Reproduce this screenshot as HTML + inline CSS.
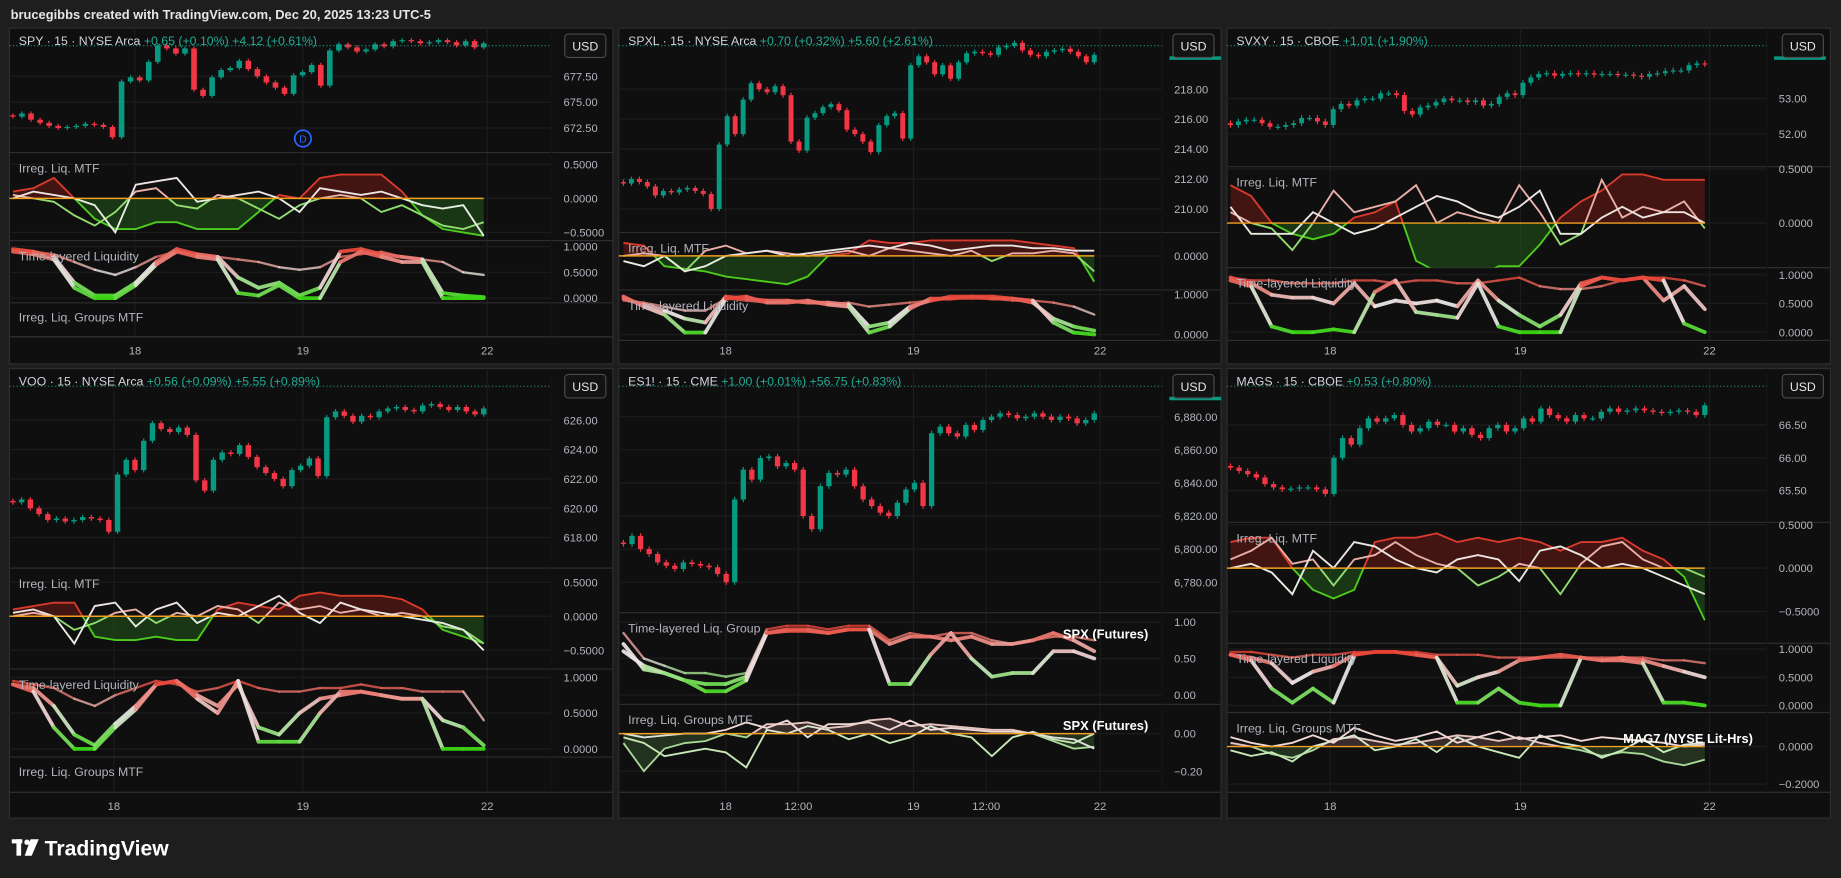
<!DOCTYPE html>
<html><head><meta charset="utf-8"><style>
html,body{margin:0;padding:0;background:#1e1e1e;overflow:hidden;}
svg{display:block;font-family:"Liberation Sans",sans-serif;}
</style></head><body>
<svg id="root" width="1841" height="878" viewBox="0 0 1568 748" preserveAspectRatio="none" xmlns="http://www.w3.org/2000/svg">
<rect x="0" y="0" width="1568" height="748" fill="#1e1e1e"/>
<text x="9" y="16" fill="#e6e6e6" font-size="11" font-weight="bold">brucegibbs created with TradingView.com, Dec 20, 2025 13:23 UTC-5</text>
<g>
<rect x="10" y="715" width="9" height="3.5" fill="#fff"/><rect x="14" y="715" width="4" height="14" fill="#fff"/>
<circle cx="23" cy="717.5" r="2.3" fill="#fff"/><polygon points="26,715 33,715 27,729 21,729" fill="#fff"/>
<text x="38" y="729" fill="#fff" font-size="18" font-weight="bold">TradingView</text>
</g>
<g id="panels"></g>
</svg>
<script>
// ---------- price data (closes) ----------
const spyClose=[673.6,673.9,673.3,673.0,672.7,672.5,672.6,672.7,672.9,672.8,672.6,671.6,677.0,677.4,677.1,678.9,680.5,680.2,679.7,680.2,676.2,675.6,677.4,678.1,678.3,679.0,678.2,677.5,676.9,676.4,675.8,677.6,677.9,678.6,676.6,680.0,680.6,680.3,679.9,680.1,680.6,680.4,680.9,681.0,680.9,680.7,680.8,681.0,680.8,680.5,680.9,680.3,680.7];
const spxlClose=[211.7,212.0,211.8,211.5,210.9,211.2,211.1,211.3,211.4,211.2,211.0,210.0,214.3,216.2,215.0,217.3,218.4,218.0,217.8,218.2,217.6,214.5,213.9,216.1,216.4,216.8,217.0,216.6,215.3,215.0,214.5,213.8,215.6,216.2,216.4,214.7,219.6,220.2,219.8,219.0,219.6,218.7,219.8,220.4,220.5,220.4,220.3,220.8,220.9,221.1,220.6,220.3,220.2,220.5,220.6,220.7,220.5,220.2,219.8,220.3];
const svxyClose=[52.25,52.35,52.4,52.4,52.3,52.2,52.2,52.25,52.3,52.45,52.45,52.35,52.25,52.7,52.85,52.8,52.95,53.0,53.0,53.15,53.15,53.1,52.65,52.55,52.75,52.8,52.9,53.0,52.95,52.95,52.9,52.95,52.8,52.85,53.05,53.15,53.1,53.45,53.6,53.7,53.72,53.65,53.7,53.72,53.7,53.72,53.68,53.7,53.7,53.68,53.68,53.65,53.62,53.7,53.72,53.78,53.8,53.8,53.95,54.0,53.98];
const vooClose=[620.4,620.6,620.0,619.6,619.2,619.3,619.1,619.2,619.4,619.3,619.2,618.4,622.3,623.3,622.6,624.6,625.8,625.4,625.2,625.5,625.0,621.9,621.2,623.3,623.8,623.7,624.3,623.5,622.8,622.4,622.0,621.5,622.6,622.9,623.4,622.2,626.2,626.6,626.3,625.9,626.3,626.2,626.6,626.8,626.9,626.7,626.6,627.0,627.1,626.9,626.7,626.9,626.6,626.4,626.8];
const esClose=[6803,6808,6800,6797,6792,6790,6788,6792,6791,6790,6789,6785,6780,6830,6848,6842,6855,6856,6850,6852,6848,6820,6812,6838,6846,6845,6848,6838,6830,6826,6822,6820,6828,6836,6840,6826,6870,6874,6870,6868,6875,6872,6878,6880,6882,6881,6879,6880,6882,6880,6878,6880,6879,6876,6878,6882];
const magsClose=[65.85,65.8,65.75,65.7,65.6,65.55,65.52,65.53,65.55,65.55,65.52,65.45,66.0,66.3,66.2,66.45,66.6,66.55,66.6,66.65,66.5,66.4,66.45,66.55,66.5,66.5,66.4,66.45,66.35,66.3,66.45,66.5,66.4,66.45,66.6,66.55,66.75,66.65,66.6,66.55,66.65,66.6,66.6,66.7,66.75,66.7,66.72,66.75,66.72,66.7,66.68,66.7,66.72,66.7,66.65,66.8];

// ---------- indicator data ----------
const spyMtfA=[0.1,0.15,0.3,0.0,-0.3,-0.45,-0.45,-0.35,-0.35,-0.45,-0.45,-0.45,-0.2,0.05,0.0,0.3,0.35,0.35,0.35,0.1,-0.25,-0.45,-0.5,-0.55];
const spyMtfB=[0.05,0.0,-0.05,-0.25,-0.4,-0.2,0.1,0.15,-0.1,-0.15,0.05,0.0,-0.15,-0.3,-0.1,0.0,0.05,0.0,-0.2,-0.1,-0.25,-0.4,-0.45,-0.35];
const spyMtfC=[0.0,0.1,0.05,0.0,-0.1,-0.5,0.2,0.25,0.3,-0.05,0.0,0.05,0.1,0.0,-0.2,0.15,0.1,0.05,0.1,0.0,-0.1,-0.15,-0.1,-0.55];
const spyTl1=[0.95,0.9,0.85,0.7,0.55,0.45,0.6,0.8,0.9,0.85,0.8,0.75,0.7,0.6,0.55,0.6,0.8,0.85,0.9,0.8,0.75,0.7,0.5,0.45];
const spyTl2=[0.95,0.9,0.8,0.3,0.05,0.05,0.3,0.7,0.95,0.85,0.8,0.4,0.2,0.3,0.05,0.2,0.9,0.95,0.85,0.8,0.75,0.1,0.05,0.02];
const spyTl3=[0.9,0.85,0.75,0.2,0.0,0.0,0.25,0.65,0.9,0.8,0.75,0.1,0.05,0.25,0.0,0.0,0.7,0.9,0.8,0.7,0.7,0.0,0.0,0.0];

const spxlMtfA=[0.25,0.2,-0.2,-0.25,-0.3,-0.4,-0.45,-0.5,-0.55,-0.4,0.0,0.05,0.3,0.25,0.25,0.3,0.3,0.3,0.3,0.3,0.25,0.2,0.15,-0.5];
const spxlMtfB=[0.0,0.05,0.0,-0.3,0.1,0.2,0.05,0.1,0.05,0.0,0.05,0.1,0.0,0.15,0.1,0.05,0.0,0.1,-0.1,0.05,0.05,0.1,0.05,-0.3];
const spxlMtfC=[-0.1,-0.2,0.0,-0.3,-0.2,0.0,0.05,0.1,0.0,0.05,0.1,0.15,0.2,0.15,0.25,0.2,0.1,0.15,0.2,0.2,0.15,0.15,0.1,0.1];
const spxlTl1=[0.85,0.8,0.7,0.6,0.6,0.9,0.85,0.8,0.85,0.8,0.75,0.8,0.7,0.75,0.8,0.85,0.9,0.9,0.9,0.85,0.85,0.8,0.7,0.5];
const spxlTl2=[0.9,0.75,0.6,0.4,0.3,0.95,0.9,0.85,0.85,0.8,0.8,0.75,0.2,0.3,0.7,0.85,0.95,0.95,0.95,0.9,0.8,0.4,0.2,0.1];
const spxlTl3=[0.95,0.7,0.5,0.05,0.05,0.9,0.95,0.8,0.8,0.85,0.75,0.7,0.05,0.2,0.65,0.9,0.9,0.95,0.9,0.9,0.85,0.3,0.05,0.0];

const svxyMtfA=[0.35,0.25,0.0,-0.1,-0.15,-0.1,0.05,0.1,0.2,-0.35,-0.45,-0.45,-0.5,-0.4,-0.4,-0.2,0.05,0.2,0.3,0.45,0.45,0.4,0.4,0.4];
const svxyMtfB=[0.1,0.0,-0.05,-0.25,0.0,0.3,0.1,0.15,0.2,0.35,0.0,0.1,0.05,0.0,0.35,0.1,-0.2,-0.1,0.4,0.05,0.15,0.1,0.2,-0.05];
const svxyMtfC=[0.15,-0.1,-0.1,-0.1,0.1,0.0,-0.1,-0.05,0.05,0.15,0.25,0.2,0.1,0.05,0.15,0.3,-0.1,-0.1,0.05,0.15,0.05,0.1,0.1,0.0];
const svxyTl1=[0.95,0.9,0.9,0.85,0.85,0.85,0.9,0.9,0.85,0.9,0.9,0.85,0.85,0.9,0.95,0.8,0.75,0.75,0.8,0.9,0.95,0.95,0.9,0.8];
const svxyTl2=[0.95,0.85,0.65,0.6,0.6,0.5,0.85,0.45,0.55,0.5,0.55,0.45,0.9,0.55,0.3,0.1,0.3,0.85,0.95,0.9,0.95,0.55,0.8,0.4];
const svxyTl3=[0.9,0.8,0.1,0.0,0.0,0.05,0.0,0.7,0.9,0.35,0.3,0.25,0.85,0.1,0.0,0.0,0.0,0.8,0.95,0.9,0.95,0.9,0.15,0.0];

const vooMtfA=[0.1,0.15,0.2,0.2,-0.3,-0.35,-0.35,-0.3,-0.35,-0.35,0.1,0.2,0.15,0.1,0.3,0.35,0.3,0.3,0.3,0.25,0.1,-0.2,-0.3,-0.4];
const vooMtfB=[0.0,0.05,0.0,-0.2,-0.1,0.05,0.1,-0.1,0.05,0.0,0.15,0.1,-0.1,0.2,0.1,0.15,0.05,0.1,0.0,0.05,0.0,-0.15,-0.2,-0.4];
const vooMtfC=[0.05,0.1,0.0,-0.4,0.15,0.2,-0.15,0.1,0.2,-0.1,0.05,0.0,0.15,0.3,0.05,-0.1,0.2,0.1,0.05,0.0,-0.05,-0.1,-0.2,-0.5];
const vooTl1=[0.95,0.9,0.85,0.7,0.6,0.75,0.85,0.95,0.9,0.8,0.85,0.95,0.85,0.8,0.8,0.85,0.85,0.9,0.85,0.85,0.8,0.8,0.8,0.4];
const vooTl2=[0.9,0.85,0.6,0.2,0.05,0.35,0.6,0.9,0.95,0.75,0.6,0.9,0.3,0.2,0.5,0.7,0.75,0.8,0.75,0.7,0.7,0.4,0.3,0.05];
const vooTl3=[0.9,0.8,0.3,0.0,0.0,0.3,0.55,0.9,0.95,0.7,0.5,0.95,0.1,0.1,0.1,0.5,0.8,0.8,0.75,0.7,0.7,0.0,0.0,0.0];

const esTl1=[0.85,0.5,0.4,0.3,0.3,0.25,0.3,0.9,0.95,0.95,0.9,0.95,0.95,0.75,0.85,0.8,0.85,0.85,0.75,0.7,0.75,0.8,0.8,0.75];
const esTl2=[0.7,0.35,0.3,0.2,0.15,0.15,0.25,0.85,0.9,0.9,0.85,0.9,0.9,0.7,0.8,0.8,0.75,0.8,0.7,0.7,0.75,0.85,0.75,0.6];
const esTl3=[0.6,0.4,0.3,0.2,0.05,0.05,0.2,0.85,0.88,0.88,0.85,0.9,0.9,0.15,0.15,0.55,0.85,0.5,0.25,0.3,0.3,0.6,0.6,0.5];
const esGrpA=[-0.05,-0.2,-0.08,-0.05,-0.04,0.0,-0.02,0.05,0.05,0.06,0.03,0.04,0.07,0.08,0.04,0.05,0.04,0.03,0.02,0.02,0.0,-0.04,-0.08,-0.07];
const esGrpB=[-0.02,-0.05,-0.12,-0.1,-0.08,-0.1,-0.18,0.02,0.0,0.04,0.02,-0.03,0.0,-0.05,-0.02,0.04,0.0,-0.02,-0.12,-0.02,0.01,-0.03,-0.05,0.0];
const esGrpC=[0.0,-0.02,-0.01,0.0,0.0,0.02,0.06,0.03,0.07,-0.02,0.05,0.05,0.06,0.02,0.07,0.02,0.03,0.02,0.01,0.01,0.0,-0.02,-0.03,-0.08];

const magsMtfA=[0.3,0.35,0.35,0.0,-0.25,-0.35,-0.25,0.3,0.35,0.35,0.4,0.3,0.35,0.3,0.35,0.3,0.2,0.3,0.3,0.35,0.2,0.1,-0.1,-0.6];
const magsMtfB=[0.1,0.2,0.35,0.05,0.1,-0.2,0.1,0.15,0.3,0.15,0.05,0.0,-0.2,-0.1,0.05,0.0,-0.3,0.05,0.25,0.3,0.1,0.0,0.0,-0.1];
const magsMtfC=[0.0,0.05,-0.05,-0.3,0.2,0.0,0.3,0.25,0.1,0.0,-0.05,0.1,0.15,0.1,-0.15,0.2,0.25,0.15,0.0,0.05,0.0,-0.1,-0.2,-0.3];
const magsTl1=[0.95,0.95,0.9,0.85,0.9,0.9,0.95,0.95,0.95,0.95,0.9,0.9,0.9,0.85,0.85,0.85,0.85,0.85,0.85,0.85,0.85,0.8,0.8,0.75];
const magsTl2=[0.9,0.85,0.75,0.4,0.6,0.7,0.9,0.95,0.95,0.9,0.85,0.35,0.5,0.6,0.8,0.85,0.9,0.85,0.8,0.85,0.8,0.7,0.6,0.5];
const magsTl3=[0.9,0.8,0.3,0.05,0.3,0.05,0.9,0.95,0.95,0.9,0.85,0.05,0.05,0.3,0.05,0.0,0.0,0.85,0.8,0.8,0.75,0.05,0.05,0.0];
const magsGrpA=[0.02,0.0,-0.04,-0.06,-0.02,0.04,0.05,0.03,0.01,0.02,0.04,0.06,0.05,0.03,0.05,0.02,0.0,-0.02,-0.05,-0.03,-0.04,-0.08,-0.1,-0.07];
const magsGrpB=[-0.02,-0.05,-0.03,-0.08,0.0,0.03,0.06,-0.02,0.0,0.04,-0.03,0.05,0.0,-0.03,-0.06,0.06,0.02,0.0,-0.06,-0.02,0.04,-0.03,0.01,0.02];
const magsGrpC=[0.05,0.02,0.0,0.02,0.06,0.02,0.1,0.06,0.03,0.05,0.08,0.02,0.05,0.08,0.04,0.05,0.06,0.03,0.05,0.04,0.03,0.02,0.0,0.01];

// ---------- layout config ----------
const panels=[
 {id:'spy',x0:8,x1:522,top:24,bot:310,ax:470,cx0:11,cx1:412,close:spyClose,pmap:[677.5,65,672.5,109],title:'SPY · 15 · NYSE Arca',chg:'+0.65 (+0.10%)  +4.12 (+0.61%)',
  pticks:[677.5,675,672.5],pfmt:2,mainBot:130,timeY:298,timeLine:287,times:[['18',115],['19',258],['22',415]],
  panes:[{type:'mtf',top:130,bot:205,map:[0.5,140,-0.5,198],ticks:[[0.5,'0.5000'],[0,'0.0000'],[-0.5,'−0.5000']],label:'Irreg. Liq. MTF',s:[spyMtfA,spyMtfB,spyMtfC]},
         {type:'tl',top:205,bot:258,map:[1,210,0,254],ticks:[[1,'1.0000'],[0.5,'0.5000'],[0,'0.0000']],label:'Time-layered Liquidity',s:[spyTl1,spyTl2,spyTl3]},
         {type:'empty',top:258,bot:287,label:'Irreg. Liq. Groups MTF'}],dmark:true},
 {id:'spxl',x0:527,x1:1040,top:24,bot:310,ax:990,cx0:531,cx1:932,close:spxlClose,pmap:[218,76,210,178],title:'SPXL · 15 · NYSE Arca',chg:'+0.70 (+0.32%)  +5.60 (+2.61%)',
  pticks:[218,216,214,212,210],pfmt:2,mainBot:198,timeY:298,timeLine:290,times:[['18',618],['19',778],['22',937]],lastbar:true,
  panes:[{type:'mtf',top:198,bot:247,map:[0.5,196,0,218],ticks:[[0,'0.0000']],label:'Irreg. Liq. MTF',s:[spxlMtfA,spxlMtfB,spxlMtfC]},
         {type:'tl',top:247,bot:290,map:[1,251,0,285],ticks:[[1,'1.0000'],[0,'0.0000']],label:'Time-layered Liquidity',s:[spxlTl1,spxlTl2,spxlTl3]}]},
 {id:'svxy',x0:1045,x1:1559,top:24,bot:310,ax:1505,cx0:1048,cx1:1452,close:svxyClose,pmap:[53,84,52,114],title:'SVXY · 15 · CBOE',chg:'+1.01 (+1.90%)',
  pticks:[53,52],pfmt:2,mainBot:142,timeY:298,timeLine:290,times:[['18',1133],['19',1295],['22',1456]],lastbar:true,
  panes:[{type:'mtf',top:142,bot:228,map:[0.5,144,0,190],ticks:[[0.5,'0.5000'],[0,'0.0000']],label:'Irreg. Liq. MTF',s:[svxyMtfA,svxyMtfB,svxyMtfC]},
         {type:'tl',top:228,bot:290,map:[1,234,0,283],ticks:[[1,'1.0000'],[0.5,'0.5000'],[0,'0.0000']],label:'Time-layered Liquidity',s:[svxyTl1,svxyTl2,svxyTl3]}]},
 {id:'voo',x0:8,x1:522,top:314,bot:697,ax:470,cx0:11,cx1:412,close:vooClose,pmap:[626,358,618,458],title:'VOO · 15 · NYSE Arca',chg:'+0.56 (+0.09%)  +5.55 (+0.89%)',
  pticks:[626,624,622,620,618],pfmt:2,mainBot:484,timeY:686,timeLine:675,times:[['18',97],['19',258],['22',415]],
  panes:[{type:'mtf',top:484,bot:570,map:[0.5,496,-0.5,554],ticks:[[0.5,'0.5000'],[0,'0.0000'],[-0.5,'−0.5000']],label:'Irreg. Liq. MTF',s:[vooMtfA,vooMtfB,vooMtfC]},
         {type:'tl',top:570,bot:645,map:[1,577,0,638],ticks:[[1,'1.0000'],[0.5,'0.5000'],[0,'0.0000']],label:'Time-layered Liquidity',s:[vooTl1,vooTl2,vooTl3]},
         {type:'empty',top:645,bot:675,label:'Irreg. Liq. Groups MTF'}]},
 {id:'es',x0:527,x1:1040,top:314,bot:697,ax:990,cx0:531,cx1:932,close:esClose,pmap:[6880,355,6780,496],title:'ES1! · 15 · CME',chg:'+1.00 (+0.01%)  +56.75 (+0.83%)',
  pticks:[6880,6860,6840,6820,6800,6780],pfmt:'comma',mainBot:522,timeY:686,timeLine:675,times:[['18',618],['12:00',680],['19',778],['12:00',840],['22',937]],lastbar:true,
  panes:[{type:'tl',top:522,bot:600,map:[1,530,0,592],ticks:[[1,'1.00'],[0.5,'0.50'],[0,'0.00']],label:'Time-layered Liq. Group',s:[esTl1,esTl2,esTl3],tag:'SPX (Futures)'},
         {type:'grp',top:600,bot:675,map:[0,625,-0.2,657],ticks:[[0,'0.00'],[-0.2,'−0.20']],label:'Irreg. Liq. Groups MTF',s:[esGrpA,esGrpB,esGrpC],tag:'SPX (Futures)'}]},
 {id:'mags',x0:1045,x1:1559,top:314,bot:697,ax:1505,cx0:1048,cx1:1452,close:magsClose,pmap:[66.5,362,65.5,418],title:'MAGS · 15 · CBOE',chg:'+0.53 (+0.80%)',
  pticks:[66.5,66,65.5],pfmt:2,mainBot:445,timeY:686,timeLine:675,times:[['18',1133],['19',1295],['22',1456]],
  panes:[{type:'mtf',top:445,bot:548,map:[0.5,447,-0.5,521],ticks:[[0.5,'0.5000'],[0,'0.0000'],[-0.5,'−0.5000']],label:'Irreg. Liq. MTF',s:[magsMtfA,magsMtfB,magsMtfC]},
         {type:'tl',top:548,bot:607,map:[1,553,0,601],ticks:[[1,'1.0000'],[0.5,'0.5000'],[0,'0.0000']],label:'Time-layered Liquidity',s:[magsTl1,magsTl2,magsTl3]},
         {type:'grp',top:607,bot:675,map:[0,636,-0.2,668],ticks:[[0,'0.0000'],[-0.2,'−0.2000']],label:'Irreg. Liq. Groups MTF',s:[magsGrpA,magsGrpB,magsGrpC],tag:'MAG7 (NYSE Lit-Hrs)'}]}
];

const NS='http://www.w3.org/2000/svg';
function mk(tag,attrs,parent){const e=document.createElementNS(NS,tag);for(const k in attrs)e.setAttribute(k,attrs[k]);if(parent)parent.appendChild(e);return e;}
function lin(m){return v=>m[1]+(v-m[0])*(m[3]-m[1])/(m[2]-m[0]);}
function fmtComma(v){return v.toLocaleString('en-US',{minimumFractionDigits:2,maximumFractionDigits:2});}
function tlColor(v){v=Math.max(0,Math.min(1,v));let a,b,t;
 if(v<0.5){a=[60,215,20];b=[235,230,230];t=v/0.5;}else{a=[235,230,230];b=[232,45,30];t=(v-0.5)/0.5;}
 return 'rgb('+a.map((c,i)=>Math.round(c+(b[i]-c)*t)).join(',')+')';}
let clipId=0;
const root=document.getElementById('panels');

panels.forEach(p=>{
 const g=mk('g',{},root);
 
 
 mk('rect',{x:p.x0,y:p.top,width:p.x1-p.x0,height:p.bot-p.top,fill:'#0f0f0f',stroke:'#2e2e2e','stroke-width':1},g);
 const cw=p.ax-p.x0;
 // vertical grid
 p.times.forEach(t=>{mk('line',{x1:t[1],x2:t[1],y1:p.top,y2:p.timeLine,stroke:'#1c1c1c','stroke-width':1},g);});
 // time axis
 mk('line',{x1:p.x0,x2:p.x1,y1:p.timeLine,y2:p.timeLine,stroke:'#2e2e2e'},g);
 p.times.forEach(t=>{const tx=mk('text',{x:t[1],y:p.timeY+4,fill:'#b2b5be','font-size':9.5,'text-anchor':'middle'},g);tx.textContent=t[0];
  
  });
 // main pane
 const py=lin(p.pmap);
 p.pticks.forEach(v=>{const y=py(v);
  mk('line',{x1:p.x0,x2:p.ax,y1:y,y2:y,stroke:'#1c1c1c'},g);
  const tx=mk('text',{x:p.ax+10,y:y+3.5,fill:'#b2b5be','font-size':9.5},g);
  tx.textContent=p.pfmt==='comma'?fmtComma(v):v.toFixed(2);
  
  });
 mk('line',{x1:p.x0,x2:p.x1,y1:p.mainBot,y2:p.mainBot,stroke:'#2e2e2e'},g);
 const n=p.close.length, step=(p.cx1-p.cx0)/(n-1), bw=Math.max(2,step*0.62);
 const cg=mk('g',{},g);
 
 
 const wick=(p.pticks[0]-p.pticks[1])*0.08;
 for(let i=0;i<n;i++){
  const c=p.close[i], o=i?p.close[i-1]:c+ (p.pticks[0]-p.pticks[1])*0.05;
  const up=c>=o, col=up?'#089981':'#f23645', x=p.cx0+i*step;
  const hi=Math.max(o,c)+wick, lo=Math.min(o,c)-wick;
  mk('line',{x1:x,x2:x,y1:py(hi),y2:py(lo),stroke:col,'stroke-width':1},cg);
  const yt=py(Math.max(o,c)), yb=py(Math.min(o,c));
  const r=mk('rect',{x:x-bw/2,y:yt,width:bw,height:Math.max(1,yb-yt),fill:col},cg);
  
  
 }
 const ly=py(p.close[n-1]);
 mk('line',{x1:p.x0,x2:p.ax,y1:p.top+15,y2:p.top+15,stroke:'#22ab94','stroke-width':0.8,'stroke-dasharray':'1,2'},g);
 if(p.lastbar){mk('rect',{x:p.ax+6,y:p.top+24,width:44,height:3,fill:'#089981'},g);}
 // title
 const tt=mk('text',{x:p.x0+8,y:p.top+14.5,'font-size':10.5,fill:'#d1d4dc'},g);
 
 
 tt.textContent=p.title+'  ';
 const ts=mk('tspan',{fill:'#22ab94'},tt);ts.textContent=p.chg;
 // USD button
 const ub=mk('g',{},g);
 
 
 mk('rect',{x:p.x1-41,y:p.top+5,width:35,height:20,rx:3,fill:'#131313',stroke:'#4a4a4a'},ub);
 const ut=mk('text',{x:p.x1-23.5,y:p.top+19,'font-size':10.5,fill:'#e6e6e6','text-anchor':'middle'},ub);ut.textContent='USD';
 if(p.dmark){const dm=mk('g',{},g);
  mk('circle',{cx:258,cy:118,r:7,fill:'none',stroke:'#2962ff','stroke-width':1.5},dm);
  const dt=mk('text',{x:258,y:121.5,'font-size':9,fill:'#2962ff','text-anchor':'middle'},dm);dt.textContent='D';}
 // sub-panes
 p.panes.forEach(pn=>{
  mk('line',{x1:p.x0,x2:p.x1,y1:pn.bot,y2:pn.bot,stroke:'#2e2e2e'},g);
  const pg=mk('g',{},g);
  
  
  if(pn.type!=='empty'){
   const vy=lin(pn.map);
   pn.ticks.forEach(t=>{const y=vy(t[0]);
    mk('line',{x1:p.x0,x2:p.ax,y1:y,y2:y,stroke:'#1c1c1c'},pg);
    const tx=mk('text',{x:p.ax+10,y:y+3.5,fill:'#b2b5be','font-size':9.5},pg);tx.textContent=t[1];});
   const m=pn.s[0].length, st=(p.cx1-p.cx0)/(m-1);
   const X=i=>p.cx0+i*st;
   if(pn.type==='mtf'||pn.type==='grp'){
    const y0=vy(0);
    const id=++clipId;
    const defs=mk('defs',{},pg);
    const ca=mk('clipPath',{id:'ca'+id},defs);mk('rect',{x:p.x0,y:pn.top,width:cw,height:y0-pn.top},ca);
    const cb=mk('clipPath',{id:'cb'+id},defs);mk('rect',{x:p.x0,y:y0,width:cw,height:pn.bot-y0},cb);
    const ptsOf=s=>s.map((v,i)=>X(i).toFixed(1)+','+vy(v).toFixed(1)).join(' ');
    const A=ptsOf(pn.s[0]);
    const poly=A+' '+X(m-1)+','+y0+' '+X(0)+','+y0;
    const grp=pn.type==='grp';
    mk('polygon',{points:poly,fill:grp?'rgba(110,80,80,0.45)':'rgba(110,25,22,0.55)','clip-path':'url(#ca'+id+')'},pg);
    mk('polygon',{points:poly,fill:grp?'rgba(55,85,45,0.5)':'rgba(35,90,25,0.55)','clip-path':'url(#cb'+id+')'},pg);
    const cols=grp?[['#e8c4c0','#a8d898'],['#d8e8d0','#c8e8b8'],['#f0d8d4','#e0e0e0']]:[['#d83a2c','#4ccc1c'],['#eab0a8','#90dc70'],['#ece4e0','#e6ece0']];
    pn.s.forEach((s,k)=>{const P=ptsOf(s);
     const l1=mk('polyline',{points:P,fill:'none',stroke:cols[k][0],'stroke-width':1.6,'clip-path':'url(#ca'+id+')'},pg);
     
     
     mk('polyline',{points:P,fill:'none',stroke:cols[k][1],'stroke-width':1.6,'clip-path':'url(#cb'+id+')'},pg);});
    mk('line',{x1:p.x0,x2:X(m-1),y1:y0,y2:y0,stroke:'#f0a020','stroke-width':1.2},pg);
   } else {
    pn.s.forEach((s,k)=>{
     const w=k===0?2:3.2;
     for(let i=0;i<m-1;i++){
      const seg=mk('line',{x1:X(i),y1:vy(s[i]),x2:X(i+1),y2:vy(s[i+1]),stroke:tlColor((s[i]+s[i+1])/2),'stroke-width':w,'stroke-linecap':'round','stroke-opacity':k===0?0.8:0.95},pg);
      
      
     }
    });
   }
   if(pn.tag){const tg=mk('text',{x:p.ax-12,y:(pn.type==='grp'?vy(0)-3:pn.top+22),'font-size':11,'font-weight':'bold',fill:'#fff','text-anchor':'end'},pg);tg.textContent=pn.tag;}
  }
  const lb=mk('text',{x:p.x0+8,y:pn.top+(pn.type==='empty'?16:17),'font-size':10.5,fill:'#b2b5be'},pg);
  lb.textContent=pn.label;
 });
 // price axis separator
 mk('line',{x1:p.ax,x2:p.ax,y1:p.top,y2:p.timeLine,stroke:'#151515'},g);
});
</script>
</body></html>
